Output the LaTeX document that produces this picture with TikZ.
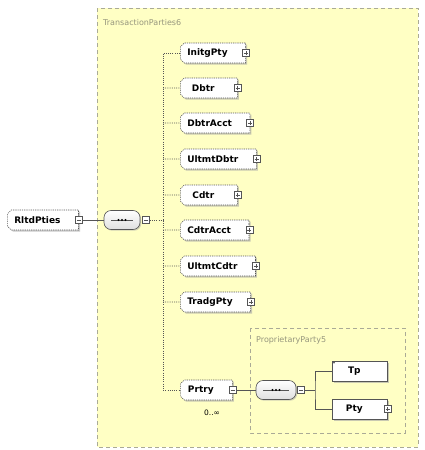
\documentclass[tikz,border=0pt]{standalone}
\usepackage{fontspec}
\setmainfont{DejaVu Sans}
\usetikzlibrary{positioning,shapes.misc,shadows}
\definecolor{grpyellow}{RGB}{255,255,196}
\definecolor{grpline}{RGB}{170,170,150}
\definecolor{grptext}{RGB}{150,150,125}
\definecolor{elemline}{RGB}{85,85,85}

\begin{document}
\begin{tikzpicture}[
  x=1pt,y=-1pt,
  grp/.style={draw=grpline,line width=0.7pt,dash pattern=on 4pt off 3pt,fill=grpyellow},
  grplabel/.style={anchor=west,inner sep=0pt,text=grptext,font=\fontsize{8}{9}\selectfont},
  elem/.style={draw=elemline,line width=0.6pt,fill=white,anchor=west,
    minimum width=57pt,minimum height=20pt,inner xsep=5pt,
    font=\fontsize{9}{10}\selectfont\bfseries,
    execute at end node={\hspace{11pt}},
    drop shadow={shadow xshift=1.5pt,shadow yshift=-1.5pt,fill=gray!70,opacity=0.6}},
  opt/.style={elem,dash pattern=on 1.2pt off 1pt,chamfered rectangle,
    chamfered rectangle corners={north west,south west},chamfered rectangle sep=2pt},
  seq/.style={draw=elemline,line width=0.6pt,rounded corners=7pt,minimum width=36pt,
    minimum height=19pt,inner sep=0pt,top color=white,bottom color=gray!25,
    drop shadow={shadow xshift=1.2pt,shadow yshift=-1.2pt,fill=gray!70,opacity=0.5},
    path picture={
      \draw[line width=0.6pt] ([xshift=7pt]path picture bounding box.west) -- ([xshift=-7pt]path picture bounding box.east);
      \foreach \d in {-3.5,0,3.5} \fill ([xshift=\d pt]path picture bounding box.center) circle (1.1pt);}},
  xbox/.style={draw=elemline,line width=0.4pt,fill=white,minimum size=7pt,inner sep=0pt},
  plus/.style={xbox,path picture={\draw[line width=0.5pt]
    ([xshift=1.5pt]path picture bounding box.west) -- ([xshift=-1.5pt]path picture bounding box.east)
    ([yshift=1.5pt]path picture bounding box.south) -- ([yshift=-1.5pt]path picture bounding box.north);}},
  minus/.style={xbox,path picture={\draw[line width=0.5pt]
    ([xshift=1.5pt]path picture bounding box.west) -- ([xshift=-1.5pt]path picture bounding box.east);}},
  ln/.style={draw=elemline,line width=0.7pt},
  dln/.style={draw=elemline,line width=0.7pt,dash pattern=on 1pt off 1.2pt},
  card/.style={inner sep=1pt,font=\fontsize{7.5}{8}\selectfont}
]
\useasboundingbox (0,0) rectangle (424,450);

% groups
\draw[grp] (97,8) rectangle (418,447);
\node[grplabel] (grp1) at (103,23) {TransactionParties6};
\draw[grp] (250,328) rectangle (405,433);
\node[grplabel] (grp2) at (256,340) {ProprietaryParty5};

% root and sequence
\node[opt,minimum width=70pt] (root) at (7,220) {RltdPties};
\node[minus] (root-x) at (root.east) {};
\node[seq] (seq1) at (122,220) {};
\node[minus] (seq1-x) at (146,220) {};
\coordinate (br1) at (163,220);

% children
\node[opt] (initg) at (180,53)  {InitgPty};
\node[opt] (dbtr)  at (180,88)  {Dbtr};
\node[opt] (dbtra) at (180,123) {DbtrAcct};
\node[opt] (udbtr) at (180,159) {UltmtDbtr};
\node[opt] (cdtr)  at (180,195) {Cdtr};
\node[opt] (cdtra) at (180,230) {CdtrAcct};
\node[opt] (ucdtr) at (180,266) {UltmtCdtr};
\node[opt] (tradg) at (180,302) {TradgPty};
\node[opt,minimum width=52pt] (prtry) at (180,390) {Prtry};
\node[card] (prtry-n) at (212,413) {0..∞};

\node[plus] (initg-x) at (initg.east) {};
\node[plus] (dbtr-x)  at (dbtr.east)  {};
\node[plus] (dbtra-x) at (dbtra.east) {};
\node[plus] (udbtr-x) at (udbtr.east) {};
\node[plus] (cdtr-x)  at (cdtr.east)  {};
\node[plus] (cdtra-x) at (cdtra.east) {};
\node[plus] (ucdtr-x) at (ucdtr.east) {};
\node[plus] (tradg-x) at (tradg.east) {};
\node[minus] (prtry-x) at (prtry.east) {};

% proprietary party
\node[seq,minimum width=40pt] (seq2) at (276,390) {};
\node[minus] (seq2-x) at (301,390) {};
\coordinate (br2) at (315,390);
\node[elem,minimum width=55pt] (tp)  at (332,371) {Tp};
\node[elem,minimum width=55pt] (pty) at (332,409) {Pty};
\node[plus] (pty-x) at (pty.east) {};
\fill[elemline] ([shift={(2pt,-2pt)}]tp.north west) circle (1pt);

% connectors
\draw[ln] (root-x) -- (seq1);
\draw[dln] (seq1-x) -- (br1);
\draw[dln] (initg.west) -| (br1) |- (prtry.west);
\draw[dln] (br1 |- dbtr) -- (dbtr);
\draw[dln] (br1 |- dbtra) -- (dbtra);
\draw[dln] (br1 |- udbtr) -- (udbtr);
\draw[dln] (br1 |- cdtr) -- (cdtr);
\draw[dln] (br1 |- cdtra) -- (cdtra);
\draw[dln] (br1 |- ucdtr) -- (ucdtr);
\draw[dln] (br1 |- tradg) -- (tradg);
\draw[ln] (prtry-x) -- (seq2);
\draw[ln] (seq2-x) -- (br2);
\draw[ln] (tp.west) -| (br2) |- (pty.west);
\end{tikzpicture}
\end{document}
